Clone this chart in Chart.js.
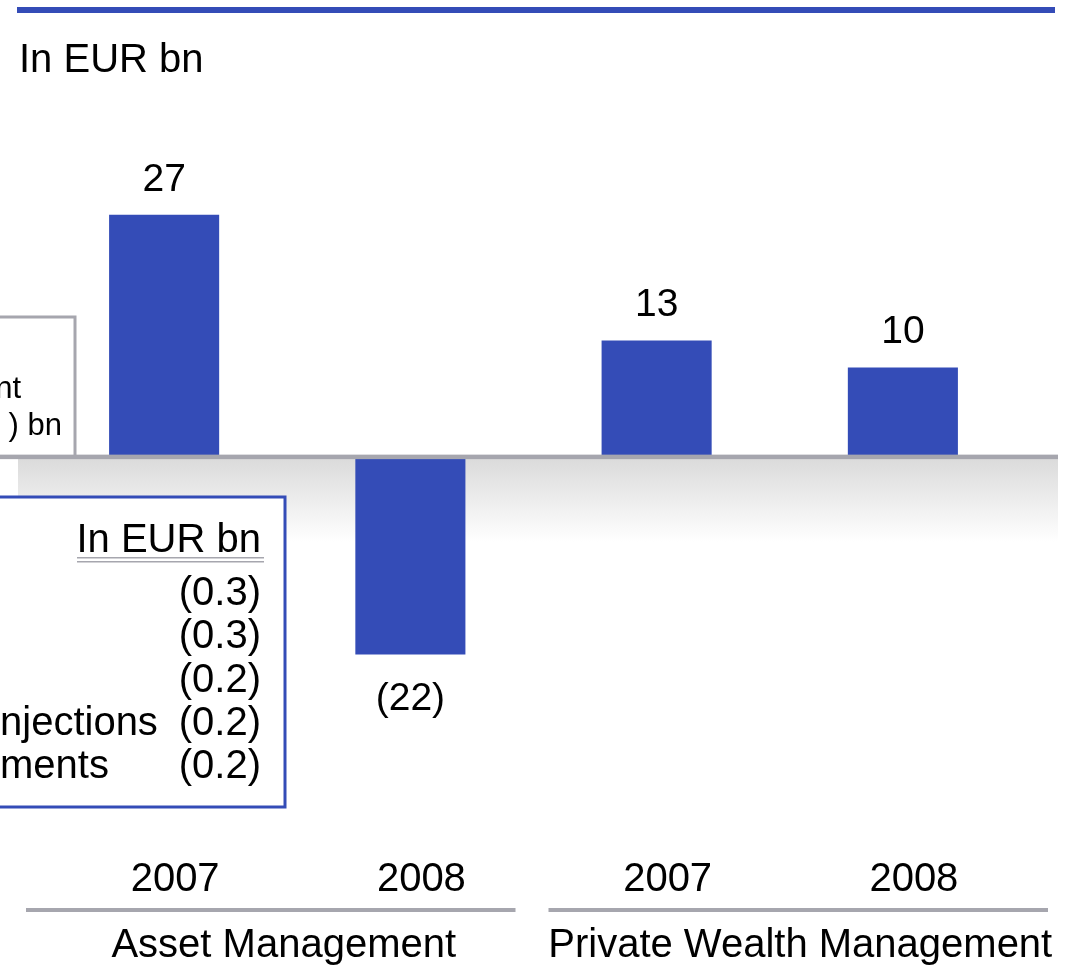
<!DOCTYPE html>
<html>
<head>
<meta charset="utf-8">
<script src="https://cdn.jsdelivr.net/npm/chart.js"></script>
<style>
  html, body { margin: 0; padding: 0; background: #fff; }
  canvas { display: block; }
</style>
</head>
<body>
<canvas id="flowChart" width="1067" height="965"></canvas>
<script>
// net new money per segment, in EUR bn
const years = ['2007', '2008', '2007', '2008'];
const netNewMoney = [27, -22, 13, 10];
const segments = ['Asset Management', 'Private Wealth Management'];
const segmentBars = [[0, 1], [2, 3]];

// text of the two call-out boxes (they run off the left edge of the slide)
const sideBoxLines = ['nt', ') bn'];
const breakdownHeader = 'In EUR bn';
const breakdownLabels = ['', '', '', 'njections', 'ments'];
const breakdownValues = ['(0.3)', '(0.3)', '(0.2)', '(0.2)', '(0.2)'];

const BLUE = '#344cb7';
const GREY = '#a6a6ae';
const FONT = '"Liberation Sans", Arial, sans-serif';

// negative numbers shown in brackets
function fmt(v) { return v < 0 ? '(' + (-v) + ')' : String(v); }

const decorations = {
  id: 'decorations',
  beforeDatasetsDraw(chart) {
    const ctx = chart.ctx;
    const y0 = chart.scales.y.getPixelForValue(0);
    ctx.save();
    // top rule + unit
    ctx.fillStyle = BLUE;
    ctx.fillRect(17, 7, 1038, 6);
    ctx.fillStyle = '#000';
    ctx.font = '40px ' + FONT;
    ctx.textBaseline = 'alphabetic';
    ctx.fillText('In EUR bn', 19, 72);
    // soft shadow under the zero line
    const g = ctx.createLinearGradient(0, y0, 0, y0 + 85);
    g.addColorStop(0, '#dadada');
    g.addColorStop(1, '#ffffff');
    ctx.fillStyle = g;
    ctx.fillRect(18, y0, 1040, 85);
    ctx.restore();
  },
  afterDatasetsDraw(chart) {
    const ctx = chart.ctx;
    const x = chart.scales.x;
    const y0 = chart.scales.y.getPixelForValue(0);
    const bars = chart.getDatasetMeta(0).data;
    ctx.save();

    // grey call-out box above the axis
    ctx.fillStyle = '#fff';
    ctx.fillRect(-10, 317, 85, y0 - 317);
    ctx.strokeStyle = GREY;
    ctx.lineWidth = 3;
    ctx.strokeRect(-10, 317, 85, y0 - 317);
    ctx.fillStyle = '#000';
    ctx.font = '31px ' + FONT;
    ctx.textAlign = 'right';
    ctx.fillText(sideBoxLines[0], 21, 398);
    ctx.fillText(sideBoxLines[1], 62, 435);

    // zero line
    ctx.fillStyle = GREY;
    ctx.fillRect(0, y0 - 2.5, 1058, 4.5);

    // blue breakdown box
    ctx.fillStyle = '#fff';
    ctx.fillRect(-10, 497, 295, 310);
    ctx.strokeStyle = BLUE;
    ctx.lineWidth = 3;
    ctx.strokeRect(-10, 497, 295, 310);
    ctx.fillStyle = '#000';
    ctx.font = '40px ' + FONT;
    ctx.textAlign = 'right';
    ctx.fillText(breakdownHeader, 261, 552);
    ctx.fillStyle = GREY;
    ctx.fillRect(77, 557, 187, 1.5);
    ctx.fillRect(77, 561, 187, 1.5);
    ctx.fillStyle = '#000';
    breakdownValues.forEach((v, i) => {
      const by = 605 + i * 43.3;
      ctx.textAlign = 'right';
      ctx.fillText(v, 261, by);
      ctx.textAlign = 'left';
      ctx.fillText(breakdownLabels[i], 0, by);
    });

    // value labels
    ctx.font = '39px ' + FONT;
    ctx.textAlign = 'center';
    bars.forEach((b, i) => {
      const v = netNewMoney[i];
      ctx.fillText(fmt(v), b.x, v < 0 ? b.y + 55 : b.y - 24);
    });

    // segment rules and names
    const step = x.getPixelForValue(1) - x.getPixelForValue(0);
    const nameShift = [13, 2];
    ctx.font = '40px ' + FONT;
    segmentBars.forEach((s, i) => {
      let left = x.getPixelForValue(s[0]) - step / 2;
      let right = x.getPixelForValue(s[s.length - 1]) + step / 2;
      left += i === 0 ? -15 : 15;
      right += i === segmentBars.length - 1 ? 22 : -18;
      ctx.fillStyle = GREY;
      ctx.fillRect(left, 908, right - left, 4);
      ctx.fillStyle = '#000';
      ctx.fillText(segments[i], (left + right) / 2 + nameShift[i], 957);
    });
    ctx.restore();
  }
};

new Chart(document.getElementById('flowChart'), {
  type: 'bar',
  data: {
    labels: years,
    datasets: [{
      data: netNewMoney,
      backgroundColor: BLUE,
      barPercentage: 0.447,
      categoryPercentage: 1
    }]
  },
  options: {
    responsive: false,
    animation: false,
    devicePixelRatio: 1,
    layout: { padding: { left: 41, right: 41, top: 152, bottom: 57 } },
    plugins: {
      legend: { display: false },
      tooltip: { enabled: false }
    },
    scales: {
      x: {
        grid: { display: false, drawTicks: false },
        border: { display: false },
        ticks: {
          color: '#000',
          font: { family: FONT, size: 40, lineHeight: 1 },
          padding: 8,
          labelOffset: 11,
          maxRotation: 0,
          autoSkip: false
        }
      },
      y: { display: false, min: -44, max: 34 }
    }
  },
  plugins: [decorations]
});
</script>
</body>
</html>
